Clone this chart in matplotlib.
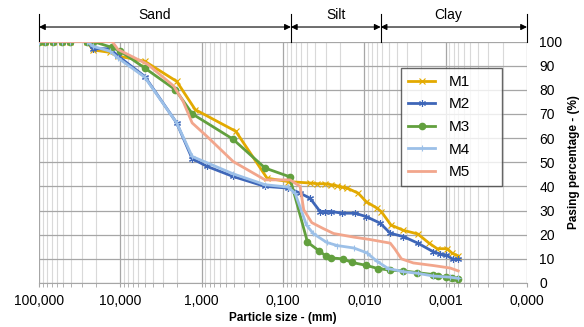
import numpy as np
import matplotlib
matplotlib.use("Agg")
import matplotlib.pyplot as plt
from matplotlib.ticker import FuncFormatter, FixedLocator, MultipleLocator, NullFormatter

plt.rcParams['font.family'] = ['Liberation Sans', 'DejaVu Sans']

# grain size data: diameter (mm) and passing percentage (%)
d_m1 = [100, 84, 67, 52, 41.6, 25.7, 21.7, 13.4, 10.7, 5.0, 2.03, 1.2, 0.38, 0.157, 0.0865,
        0.0465, 0.0381, 0.0303, 0.0256, 0.0216, 0.0187, 0.0163, 0.0119, 0.0095, 0.0070,
        0.0062, 0.0047, 0.0033, 0.0022, 0.0016, 0.00127, 0.00096, 0.00083, 0.0007]
p_m1 = [100, 100, 100, 100, 100, 100, 96.5, 95.5, 94, 91.8, 83.5, 71.8, 62.8, 43.4, 42,
        41.4, 41.1, 41.1, 40.7, 40.2, 39.7, 39.3, 37.2, 33.7, 31.0,
        29.6, 24, 21.8, 20.3, 16.5, 14.2, 14.2, 12.3, 11.2]

d_m2 = [100, 84, 67, 52, 41.6, 25.7, 21.7, 13.4, 10.7, 5.0, 2.03, 1.31, 0.86, 0.41, 0.166, 0.0865,
        0.0616, 0.0465, 0.035, 0.0303, 0.0256, 0.0187, 0.013, 0.0095, 0.0064,
        0.0048, 0.0033, 0.0022, 0.00143, 0.00117, 0.00099, 0.00081, 0.0007]
p_m2 = [100, 100, 100, 100, 100, 100, 97, 97, 94, 85.5, 66.3, 51.5, 48.3, 44.1, 40.0, 39.3,
        37.2, 35.1, 29.6, 29.6, 29.6, 28.9, 28.9, 27.5, 24.8,
        20.6, 19.2, 16.5, 13.0, 12.0, 11.6, 9.8, 9.8]

d_m3 = [100, 84, 67, 52, 41.6, 25.7, 21.7, 12.8, 10, 5.0, 2.1, 1.3, 0.414, 0.166, 0.083,
        0.05, 0.0356, 0.030, 0.0256, 0.0185, 0.0141, 0.0095, 0.0068, 0.0048, 0.0033,
        0.00224, 0.00143, 0.00124, 0.00099, 0.00084, 0.0007]
p_m3 = [100, 100, 100, 100, 100, 100, 100, 97.6, 96, 89, 80, 70, 59.6, 47.6, 44,
        16.9, 13.2, 11.3, 10.4, 10.0, 8.5, 7.3, 6.0, 5.3, 5.0,
        4.3, 3.5, 3.0, 2.5, 1.9, 1.5]

d_m4 = [100, 84, 67, 52, 41.6, 25.7, 21.7, 13.4, 10.7, 5.0, 2.03, 1.31, 0.41, 0.166, 0.0865,
        0.071, 0.0514, 0.0426, 0.029, 0.0215, 0.0135, 0.0093, 0.0070, 0.0051, 0.0033,
        0.0022, 0.00143, 0.00088, 0.0007]
p_m4 = [100, 100, 100, 100, 100, 100, 98, 96, 93.2, 85.2, 66.3, 52.4, 45.2, 40.7, 39.7,
        37.2, 24, 20.5, 16.8, 15.5, 14.5, 12.5, 9, 6, 4.7,
        4.0, 2.9, 2.4, 1.9]

d_m5 = [100, 84, 67, 52, 41.6, 25.7, 21.7, 12.6, 10.7, 4.6, 2.2, 1.69, 1.31, 0.86, 0.41, 0.166,
        0.082, 0.0616, 0.0556, 0.0443, 0.0318, 0.0239, 0.0135, 0.0085, 0.0048, 0.0042,
        0.0035, 0.0025, 0.0014, 0.00088, 0.0007]
p_m5 = [100, 100, 100, 100, 100, 100, 100, 100, 96.7, 90.5, 81.5, 75.2, 66.3, 60.7, 50.3, 42.7,
        42.7, 40, 30.3, 25, 22.5, 20.5, 19, 18, 16.5, 14,
        10, 8.3, 7.2, 6.2, 5]

# soil class boundaries (mm)
sand_silt = 0.08
silt_clay = 0.0063

fig = plt.figure(figsize=(5.84, 3.27), dpi=100)
ax = fig.add_axes([39 / 584, 1 - 283 / 327, 488 / 584, 241.5 / 327])

ax.plot(d_m1, p_m1, color='#E3AA00', lw=2, marker='x', ms=4, mew=0.8, label='M1', zorder=3)
ax.plot(d_m2, p_m2, color='#3E66B8', lw=2, marker=(6, 2, 0), ms=5, mew=0.8, label='M2', zorder=3)
ax.plot(d_m3, p_m3, color='#62A03E', lw=2, marker='o', ms=4.5, label='M3', zorder=3)
ax.plot(d_m4, p_m4, color='#9CC0E8', lw=2, marker='+', ms=5, mew=0.8, label='M4', zorder=3)
ax.plot(d_m5, p_m5, color='#F2A68C', lw=2, label='M5', zorder=3)

ax.set_xscale('log')
ax.set_xlim(100, 0.0001)
ax.set_ylim(0, 100)
decades = [10.0 ** e for e in range(-4, 3)]
ax.xaxis.set_major_locator(FixedLocator(decades))
ax.xaxis.set_minor_locator(FixedLocator([m * d for d in decades[:-1] for m in range(2, 10)]))
ax.xaxis.set_major_formatter(FuncFormatter(lambda v, p: f"{v:.3f}".replace('.', ',')))
ax.xaxis.set_minor_formatter(NullFormatter())
ax.yaxis.set_major_locator(MultipleLocator(10))

ax.grid(True, which='major', color='#a6a6a6', lw=0.9)
ax.grid(True, which='minor', axis='x', color='#d9d9d9', lw=0.8)
ax.set_axisbelow(True)

for s in ['top', 'left', 'right']:
    ax.spines[s].set_visible(False)
ax.spines['bottom'].set_color('#a6a6a6')

ax.yaxis.tick_right()
ax.yaxis.set_label_position('right')
ax.tick_params(axis='y', which='both', length=0, pad=9, labelsize=10)
ax.tick_params(axis='x', which='both', direction='out', length=3, color='#a6a6a6',
               pad=5, labelsize=10)

ax.set_xlabel('Particle size - (mm)', fontsize=8.5, fontweight='bold', labelpad=3)
ax.set_ylabel('Pasing percentage - (%)', fontsize=8.5, fontweight='bold', labelpad=4)

# soil classes on top
tr = ax.get_xaxis_transform()
for xb in [100, sand_silt, silt_clay, 0.0001]:
    ax.plot([xb, xb], [1.0, 1.115], transform=tr, color='black', lw=0.8, clip_on=False)
for x1, x2, name, xt in [(100, sand_silt, 'Sand', 3.74),
                         (sand_silt, silt_clay, 'Silt', 0.0222),
                         (silt_clay, 0.0001, 'Clay', 0.00093)]:
    ax.annotate('', xy=(x1, 1.06), xytext=(x2, 1.06), xycoords=tr, textcoords=tr,
                arrowprops=dict(arrowstyle='<|-|>', color='black', lw=0.8,
                                shrinkA=0, shrinkB=0, mutation_scale=9))
    ax.text(xt, 1.11, name, transform=tr, ha='center', va='center', fontsize=10)

ax.legend(loc='upper left', bbox_to_anchor=(0.742, 0.41, 0.207, 0.48), mode='expand',
          borderaxespad=0, fontsize=11, frameon=True, fancybox=False, edgecolor='#404040',
          handlelength=1.8, labelspacing=0.56, borderpad=0.45, handletextpad=0.85)

fig.savefig('out.png', dpi=100)
